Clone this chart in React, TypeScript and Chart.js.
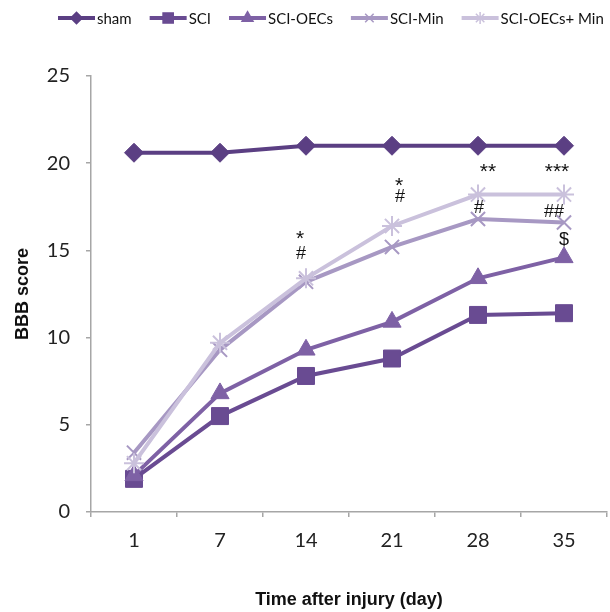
import React, { useEffect, useRef } from "react";
import { Chart, registerables } from "chart.js";
import { drawPoint } from "chart.js/helpers";

Chart.register(...registerables);

const days = ["1", "7", "14", "21", "28", "35"];
const seriesNames = ["sham", "SCI", "SCI-OECs", "SCI-Min", "SCI-OECs+ Min"];
const sham = [20.6, 20.6, 21, 21, 21, 21];
const sci = [1.9, 5.5, 7.8, 8.8, 11.3, 11.4];
const sciOecs = [2.1, 6.8, 9.3, 10.9, 13.4, 14.6];
const sciMin = [3.4, 9.3, 13.2, 15.2, 16.8, 16.6];
const sciOecsMin = [2.8, 9.7, 13.4, 16.4, 18.2, 18.2];
const yTicks = [0, 5, 10, 15, 20, 25];

const colors = ["#5b3f83", "#694b92", "#7e61a5", "#a798c3", "#cac1dc"];
const pointStyles = ["rectRot", "rect", "triangle", "crossRot", "star"];
const pointRadii = [9.5, 12, 10.5, 10, 10];

// significance marks: category, value (visual centre), text, pixel nudge
const marks = [
  { day: "14", y: 16.0, text: "*", dx: -6 },
  { day: "14", y: 14.9, text: "#", dx: -5 },
  { day: "21", y: 19.05, text: "*", dx: 7 },
  { day: "21", y: 18.15, text: "#", dx: 8 },
  { day: "28", y: 19.85, text: "**", dx: 10 },
  { day: "28", y: 17.5, text: "#", dx: 1 },
  { day: "35", y: 19.85, text: "***", dx: -7 },
  { day: "35", y: 17.3, text: "##", dx: -10 },
  { day: "35", y: 15.7, text: "$", dx: 0 },
];

const legendPlugin = {
  id: "lineLegend",
  afterDraw(chart: any) {
    const ctx = chart.ctx;
    ctx.save();
    let x = 58;
    const y = 18;
    ctx.font = "15px Lato";
    ctx.textBaseline = "middle";
    chart.data.datasets.forEach((ds: any) => {
      ctx.strokeStyle = ds.borderColor;
      ctx.lineWidth = 4;
      ctx.beginPath();
      ctx.moveTo(x, y);
      ctx.lineTo(x + 37, y);
      ctx.stroke();
      ctx.fillStyle = ds.borderColor;
      ctx.strokeStyle = ds.borderColor;
      ctx.lineWidth = 1.5;
      drawPoint(ctx, { pointStyle: ds.pointStyle, radius: ds.pointRadius * 0.6, rotation: 0, borderWidth: 1.5 } as any, x + 18.5, y);
      ctx.fillStyle = "#111";
      ctx.fillText(ds.label, x + 39, y + 1);
      x += 39 + ctx.measureText(ds.label).width + 18;
    });
    ctx.restore();
  },
};

const marksPlugin = {
  id: "sigMarks",
  afterDatasetsDraw(chart: any) {
    const ctx = chart.ctx;
    const xs = chart.scales.x;
    const ys = chart.scales.y;
    ctx.save();
    ctx.fillStyle = "#111";
    ctx.textAlign = "center";
    ctx.textBaseline = "alphabetic";
    marks.forEach((m) => {
      const star = m.text.startsWith("*");
      const fs = star ? 21 : 18;
      ctx.font = `${fs}px "Liberation Sans"`;
      const px = xs.getPixelForValue(days.indexOf(m.day)) + m.dx;
      const cy = ys.getPixelForValue(m.y);
      const off = star ? 0.57 * fs : 0.36 * fs;
      ctx.fillText(m.text, px, cy + off);
    });
    ctx.restore();
  },
};

export default function App() {
  const ref = useRef<HTMLCanvasElement>(null);
  useEffect(() => {
    const allData = [sham, sci, sciOecs, sciMin, sciOecsMin];
    const chart = new Chart(ref.current!, {
      type: "line",
      data: {
        labels: days,
        datasets: allData.map((d, i) => ({
          label: seriesNames[i],
          data: d,
          borderColor: colors[i],
          backgroundColor: colors[i],
          pointBackgroundColor: colors[i],
          pointBorderColor: colors[i],
          borderWidth: 4,
          pointStyle: pointStyles[i] as any,
          pointRadius: pointRadii[i],
          pointBorderWidth: i >= 3 ? 2 : 1,
          tension: 0,
          fill: false,
          clip: false as any,
          order: 5 - i,
        })),
      },
      options: {
        responsive: false,
        animation: false,
        layout: { autoPadding: false, padding: { top: 76, right: 3, left: 0, bottom: 0 } },
        plugins: { legend: { display: false }, tooltip: { enabled: false } },
        scales: {
          x: {
            type: "category",
            offset: true,
            grid: {
              display: true,
              drawOnChartArea: false,
              drawTicks: true,
              tickLength: 5,
              color: "#a6a6a6",
              offset: true,
              lineWidth: 1.5,
            },
            border: { color: "#a6a6a6", width: 1.5 },
            ticks: { font: { family: "Lato", size: 20 }, color: "#222", padding: 12 },
            title: {
              display: true,
              text: "Time after injury (day)",
              font: { family: "Liberation Sans", size: 18, weight: "bold" },
              color: "#111",
              padding: { top: 0, bottom: 1 },
            },
            afterFit: (s: any) => {
              s.height = 100;
              s.paddingLeft = 0;
              s.paddingRight = 0;
            },
          },
          y: {
            min: 0,
            max: 25,
            afterBuildTicks: (s: any) => {
              s.ticks = yTicks.map((v) => ({ value: v }));
            },
            grid: {
              display: true,
              drawOnChartArea: false,
              drawTicks: true,
              tickLength: 5,
              color: "#a6a6a6",
              lineWidth: 1.5,
            },
            border: { color: "#a6a6a6", width: 1.5 },
            ticks: { font: { family: "Lato", size: 20 }, color: "#222", padding: 16 },
            title: {
              display: true,
              text: "BBB score",
              font: { family: "Liberation Sans", size: 18, weight: "bold" },
              color: "#111",
              padding: { top: 12, bottom: 0 },
            },
            afterFit: (s: any) => {
              s.width = 91;
              s.paddingTop = 0;
              s.paddingBottom = 0;
            },
          },
        },
      },
      plugins: [legendPlugin, marksPlugin],
    });
    return () => chart.destroy();
  }, []);
  return (
    <div style={{ position: "absolute", left: 0, top: 0, width: 610, height: 612, overflow: "hidden", background: "#fff" }}>
      <canvas ref={ref} width={610} height={612} style={{ display: "block" }} />
    </div>
  );
}
